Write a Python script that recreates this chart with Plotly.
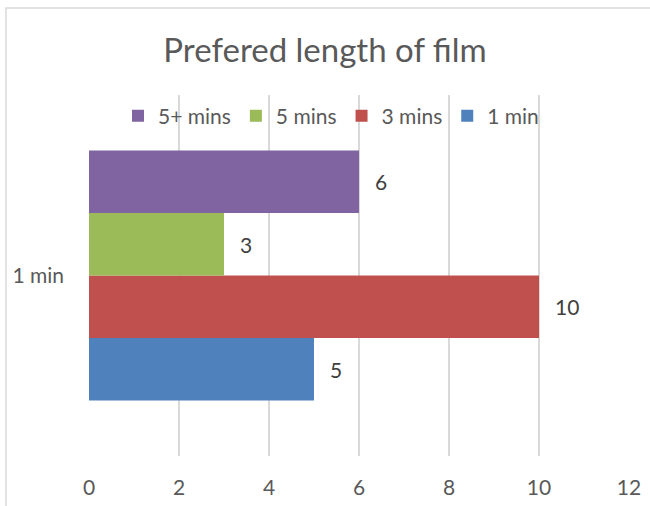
import plotly.graph_objects as go

categories = ["1 min"]
series_names = ["1 min", "3 mins", "5 mins", "5+ mins"]
series_values = [[5], [10], [3], [6]]
series_colors = ["#4F81BD", "#C0504D", "#9BBB59", "#8064A2"]
x_ticks = [0, 2, 4, 6, 8, 10, 12]

FONT = "Lato, Carlito, Calibri, sans-serif"
TEXT = "#595959"

# plot area in pixels: x 89..629, y 95..456
L, R, T, B = 89, 21, 95, 50
W, H = 650 - L - R, 506 - T - B

def px(x):
    return (x - L) / W

def py(y):
    return 1 - (y - T) / H

fig = go.Figure()
for name, vals, col in zip(series_names, series_values, series_colors):
    fig.add_trace(go.Bar(
        y=categories, x=vals, name=name, orientation="h",
        marker=dict(color=col, line=dict(width=0)),
    ))

# value labels placed just right of each bar end
n = len(series_names)
bar_h = 62.5
for i, (name, vals) in enumerate(zip(series_names, series_values)):
    for v in vals:
        fig.add_annotation(
            x=v, y=0, yshift=(i - (n - 1) / 2) * bar_h,
            xref="x", yref="y", text=str(v), showarrow=False,
            xanchor="left", xshift=14,
            font=dict(family=FONT, size=21, color="#404040"),
        )

fig.add_shape(type="rect", xref="paper", yref="paper",
              x0=px(6), x1=px(700), y0=py(8), y1=py(560),
              line=dict(color="#D9D9D9", width=1.5), fillcolor="rgba(0,0,0,0)",
              layer="below")

fig.update_layout(
    width=650, height=506,
    margin=dict(l=L, r=R, t=T, b=B, autoexpand=False),
    paper_bgcolor="white", plot_bgcolor="white",
    barmode="group", bargap=0.307, bargroupgap=0,
    title=dict(text="Prefered length of film", x=0.5, xref="container", xanchor="center",
               y=1 - 50 / 506, yanchor="middle",
               font=dict(family=FONT, size=33, color=TEXT)),
    legend=dict(orientation="h", traceorder="reversed",
                x=px(118), xanchor="left", y=py(116), yanchor="middle",
                bgcolor="rgba(0,0,0,0)",
                font=dict(family=FONT, size=21, color=TEXT),
                itemwidth=30, tracegroupgap=0),
    xaxis=dict(range=[0, 12], tickvals=x_ticks, showgrid=True,
               gridcolor="#D9D9D9", gridwidth=1.5, zeroline=False,
               showline=False, ticks="", ticklabelstandoff=17, automargin=False,
               tickfont=dict(family=FONT, size=21, color=TEXT), fixedrange=True),
    yaxis=dict(showgrid=False, zeroline=False, showline=False, ticks="",
               ticklabelstandoff=24, automargin=False,
               tickfont=dict(family=FONT, size=21, color=TEXT), fixedrange=True),
    showlegend=True,
)

fig.write_html("out.html")
